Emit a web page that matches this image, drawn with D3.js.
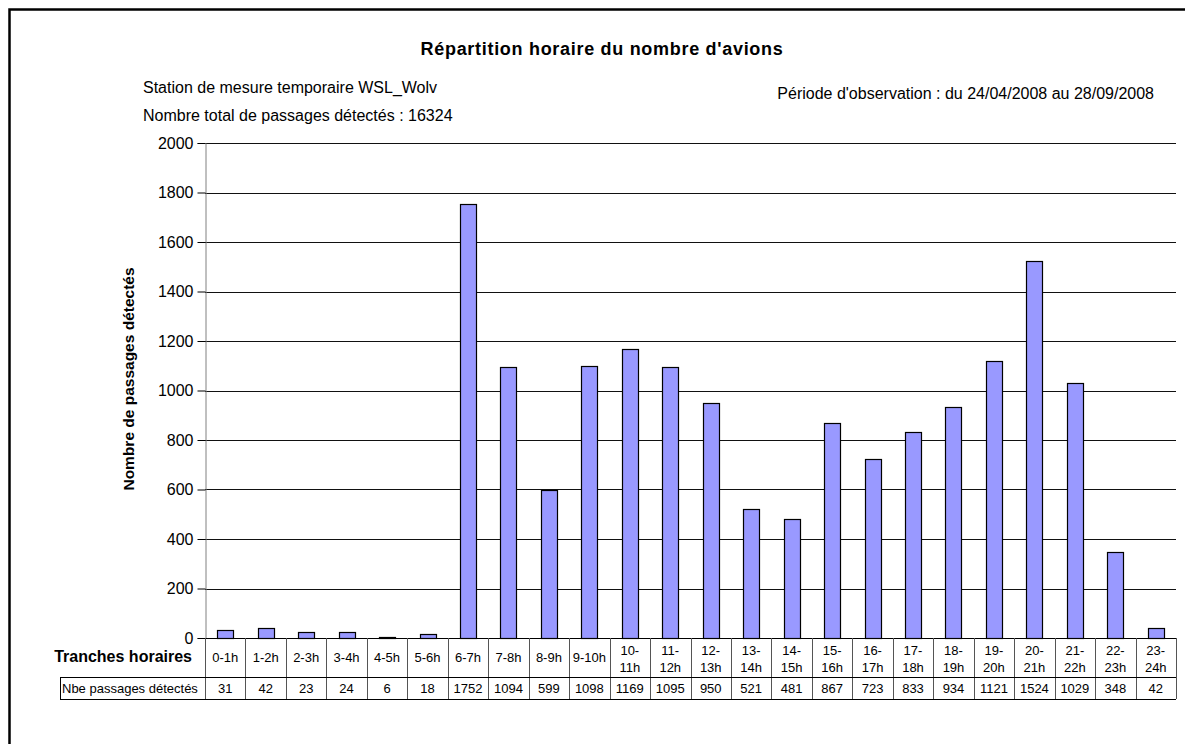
<!DOCTYPE html>
<html>
<head>
<meta charset="utf-8">
<script src="https://cdn.jsdelivr.net/npm/d3@7"></script>
<style>
	body { margin: 0; background: #fff; }
	svg text { font-family: "Liberation Sans", Arial, sans-serif; fill: #000; }
</style>
</head>
<body>
<div id="chart"></div>
<script>
// data
var tranches = ["0-1h","1-2h","2-3h","3-4h","4-5h","5-6h","6-7h","7-8h","8-9h","9-10h",
	"10-11h","11-12h","12-13h","13-14h","14-15h","15-16h","16-17h","17-18h","18-19h",
	"19-20h","20-21h","21-22h","22-23h","23-24h"];
var passages = [31,42,23,24,6,18,1752,1094,599,1098,1169,1095,950,521,481,867,723,833,934,1121,1524,1029,348,42];
var yTicks = [0,200,400,600,800,1000,1200,1400,1600,1800,2000];

var W = 1185, H = 744;
var plot = {left: 205, right: 1176, top: 143, bottom: 638};
var rowSplit = 677, tableBottom = 699, tableLeft = 60;

var svg = d3.select("#chart").append("svg")
	.attr("width", W)
	.attr("height", H);

// outer frame (runs off the right and bottom edge)
svg.append("rect")
	.attr("x", 9.5).attr("y", 9.5)
	.attr("width", W + 20).attr("height", H + 20)
	.attr("fill", "none")
	.attr("stroke", "#000")
	.attr("stroke-width", 2.5);

var x = d3.scaleBand()
	.domain(tranches)
	.range([plot.left, plot.right])
	.paddingInner(0)
	.paddingOuter(0);

var y = d3.scaleLinear()
	.domain([0, 2000])
	.range([plot.bottom, plot.top]);

//gridlines
svg.append("g").selectAll("line")
	.data(yTicks.filter(function(d){return d > 0}))
	.enter().append("line")
	.attr("x1", plot.left).attr("x2", plot.right)
	.attr("y1", function(d){return Math.round(y(d)) + 0.5})
	.attr("y2", function(d){return Math.round(y(d)) + 0.5})
	.attr("stroke", "#111");

// y axis
var yAxis = d3.axisLeft(y).tickValues(yTicks).tickFormat(d3.format("d")).tickSize(8).tickPadding(4);
var gy = svg.append("g")
	.attr("transform", "translate(" + (plot.left + 0.5) + ",0)")
	.call(yAxis);
gy.select(".domain").attr("stroke", "#808080");
gy.selectAll(".tick line").attr("stroke", "#000");
gy.selectAll(".tick text")
	.style("font-size", "16px")
	.style("font-family", "Liberation Sans, Arial, sans-serif");

// bars
var barW = 16;
svg.append("g").selectAll("rect")
	.data(passages)
	.enter().append("rect")
	.attr("x", function(d, i){return Math.round(x(tranches[i]) + x.bandwidth() / 2 - barW / 2) + 0.5})
	.attr("y", function(d){return Math.round(y(d)) + 0.5})
	.attr("width", barW)
	.attr("height", function(d){return Math.max(0, Math.round(plot.bottom - y(d)))})
	.attr("fill", "#9999ff")
	.attr("stroke", "#000")
	.attr("stroke-width", 1.2);

// x axis line
svg.append("line")
	.attr("x1", plot.left).attr("x2", plot.right)
	.attr("y1", plot.bottom + 0.5).attr("y2", plot.bottom + 0.5)
	.attr("stroke", "#000");

// data table
var tbl = svg.append("g");
var bounds = tranches.map(function(t){return x(t)}).concat([plot.right]);
tbl.selectAll("line.vsep")
	.data(bounds)
	.enter().append("line")
	.attr("class", "vsep")
	.attr("x1", function(d){return Math.round(d) + 0.5})
	.attr("x2", function(d){return Math.round(d) + 0.5})
	.attr("y1", plot.bottom)
	.attr("y2", tableBottom)
	.attr("stroke", "#555");
tbl.append("line")
	.attr("x1", tableLeft).attr("x2", plot.right)
	.attr("y1", rowSplit + 0.5).attr("y2", rowSplit + 0.5)
	.attr("stroke", "#000");
tbl.append("line")
	.attr("x1", tableLeft).attr("x2", plot.right)
	.attr("y1", tableBottom + 0.5).attr("y2", tableBottom + 0.5)
	.attr("stroke", "#000");
tbl.append("line")
	.attr("x1", tableLeft + 0.5).attr("x2", tableLeft + 0.5)
	.attr("y1", rowSplit).attr("y2", tableBottom + 1)
	.attr("stroke", "#000");

// category labels (long ones wrap onto two lines)
var catText = tbl.selectAll("text.cat")
	.data(tranches)
	.enter().append("text")
	.attr("class", "cat")
	.attr("text-anchor", "middle")
	.style("font-size", "13px")
	.attr("x", function(d){return x(d) + x.bandwidth() / 2});
catText.each(function(d){
	var t = d3.select(this);
	if (d.length > 5) {
		var parts = d.split("-");
		t.append("tspan").attr("x", t.attr("x")).attr("y", 655).text(parts[0] + "-");
		t.append("tspan").attr("x", t.attr("x")).attr("y", 672).text(parts[1]);
	} else {
		t.attr("y", 662).text(d);
	}
});

tbl.selectAll("text.val")
	.data(passages)
	.enter().append("text")
	.attr("class", "val")
	.attr("text-anchor", "middle")
	.style("font-size", "13px")
	.attr("x", function(d, i){return x(tranches[i]) + x.bandwidth() / 2})
	.attr("y", 693)
	.text(function(d){return d});

tbl.append("text")
	.attr("x", 192).attr("y", 662)
	.attr("text-anchor", "end")
	.style("font-size", "16px")
	.style("font-weight", "bold")
	.text("Tranches horaires");
tbl.append("text")
	.attr("x", 62).attr("y", 693)
	.style("font-size", "13px")
	.text("Nbe passages détectés");

// titles
svg.append("text")
	.attr("x", 602).attr("y", 55)
	.attr("text-anchor", "middle")
	.style("font-size", "18px")
	.style("letter-spacing", "0.7px")
	.style("font-weight", "bold")
	.text("Répartition horaire du nombre d'avions");
svg.append("text")
	.attr("x", 143).attr("y", 93)
	.style("font-size", "16px")
	.text("Station de mesure temporaire WSL_Wolv");
svg.append("text")
	.attr("x", 143).attr("y", 121)
	.style("font-size", "16px")
	.text("Nombre total de passages détectés : 16324");
svg.append("text")
	.attr("x", 1154).attr("y", 99)
	.attr("text-anchor", "end")
	.style("font-size", "16px")
	.text("Période d'observation : du 24/04/2008 au 28/09/2008");

// y axis title
svg.append("text")
	.attr("transform", "translate(134,379) rotate(-90)")
	.attr("text-anchor", "middle")
	.style("font-size", "15.5px")
	.style("font-weight", "bold")
	.text("Nombre de passages détectés");
</script>
</body>
</html>
